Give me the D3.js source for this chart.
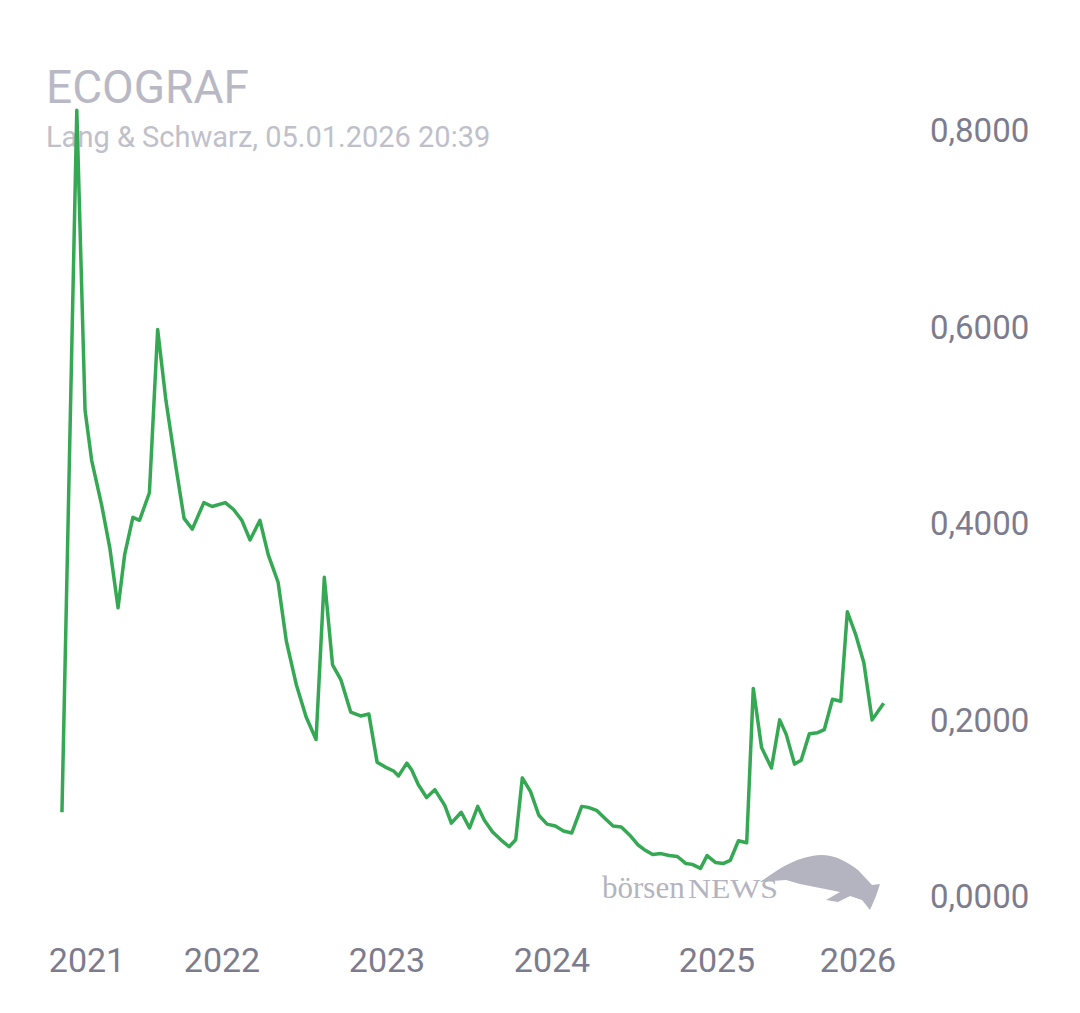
<!DOCTYPE html>
<html><head><meta charset="utf-8">
<script src="https://cdn.jsdelivr.net/npm/d3@7"></script>
<style>body{margin:0;background:#fff}</style>
</head><body><div class="canva"></div>
<script>
// decimal year of each point
const years = [2021.03,2021.12,2021.17,2021.21,2021.27,2021.32,2021.37,2021.41,2021.46,2021.50,2021.56,2021.61,2021.66,2021.72,2021.77,2021.82,2021.89,2021.94,
 2022.02,2022.07,2022.12,2022.17,2022.23,2022.28,2022.34,2022.39,2022.45,2022.51,2022.57,2022.62,2022.67,2022.72,2022.78,2022.84,2022.89,2022.94,2022.99,
 2023.04,2023.07,2023.12,2023.15,2023.19,2023.24,2023.29,2023.35,2023.39,2023.45,2023.50,2023.55,2023.59,2023.64,2023.69,2023.74,2023.78,2023.82,2023.87,2023.92,2023.97,
 2024.02,2024.07,2024.12,2024.18,2024.22,2024.27,2024.32,2024.37,2024.42,2024.47,2024.52,2024.56,2024.61,2024.66,2024.71,2024.76,2024.81,2024.85,2024.90,2024.94,2024.99,
 2025.04,2025.08,2025.13,2025.18,2025.22,2025.27,2025.33,2025.38,2025.42,2025.47,2025.51,2025.56,2025.61,2025.65,2025.70,2025.75,2025.79,2025.84,2025.89,2025.94,2026.01];
const prices = [0.106,0.820,0.515,0.464,0.419,0.375,0.314,0.368,0.406,0.403,0.431,0.597,0.525,0.458,0.405,0.394,0.421,0.417,
 0.421,0.414,0.403,0.383,0.403,0.368,0.340,0.280,0.236,0.203,0.180,0.345,0.256,0.241,0.208,0.204,0.206,0.157,0.152,
 0.148,0.143,0.156,0.149,0.134,0.121,0.129,0.113,0.095,0.106,0.090,0.112,0.098,0.086,0.078,0.071,0.078,0.141,0.127,0.103,0.094,
 0.092,0.087,0.085,0.112,0.111,0.108,0.100,0.092,0.091,0.083,0.073,0.068,0.063,0.064,0.062,0.061,0.054,0.053,0.049,0.062,0.055,
 0.054,0.057,0.077,0.075,0.232,0.172,0.151,0.200,0.185,0.155,0.159,0.186,0.187,0.190,0.221,0.219,0.310,0.287,0.258,0.200,0.217];
const yTicks = [0, 0.2, 0.4, 0.6, 0.8];
const xTicks = [2021, 2022, 2023, 2024, 2025, 2026];

const svg = d3.select('.canva').append('svg')
    .attr('width', 1080).attr('height', 1013)
    .style('font-family', 'Roboto, sans-serif');

const x = d3.scaleLinear().domain([2021, 2026]).range([57, 882]);
const y = d3.scaleLinear().domain([0, 0.8]).range([916.5, 130]);

svg.append('text').attr('x', 46).attr('y', 103).text('ECOGRAF')
    .attr('font-size', 46).attr('fill', '#b9b9c6');
svg.append('text').attr('x', 46).attr('y', 147).text('Lang & Schwarz, 05.01.2026 20:39')
    .attr('font-size', 29).attr('fill', '#c0c0cb');

// y labels (lowest one sits a bit higher, like the original)
svg.selectAll('.yl').data(yTicks).enter().append('text')
    .attr('x', 930).attr('y', d => (d === 0 ? y(d) - 21 : y(d)) + 12)
    .text(d => d3.format('.4f')(d).replace('.', ','))
    .attr('font-size', 33).attr('fill', '#7d7c8e');

svg.selectAll('.xl').data(xTicks).enter().append('text')
    .attr('x', d => Math.max(87, Math.min(858, x(d))))
    .attr('y', 972).attr('text-anchor', 'middle')
    .text(d => d).attr('font-size', 34).attr('fill', '#7d7c8e');

// watermark
svg.append('text').attr('x', 602).attr('y', 898).text('börsen')
    .attr('font-family', 'Liberation Serif, serif').attr('font-size', 31).attr('fill', '#b4b4c0');
svg.append('text').attr('x', 688).attr('y', 898).text('NEWS')
    .attr('font-family', 'Liberation Serif, serif').attr('font-size', 27).attr('fill', '#b4b4c0')
    .attr('textLength', 90).attr('lengthAdjust', 'spacingAndGlyphs');
svg.append('path')
    .attr('d', 'M760,882 C775,872 790,860 812,856 C830,852 845,860 858,870 L872,885 L880,884 L876,896 L870,910 L862,900 L850,896 L838,902 L826,900 L840,892 L820,888 L800,884 L786,880 Z')
    .attr('fill', '#b4b4c0');

const line = d3.line().x((d, i) => x(years[i])).y(d => y(d));
svg.append('path').datum(prices)
    .attr('d', line).attr('fill', 'none')
    .attr('stroke', '#34a853').attr('stroke-width', 3.5).attr('stroke-linejoin', 'round');
</script>
</body></html>
